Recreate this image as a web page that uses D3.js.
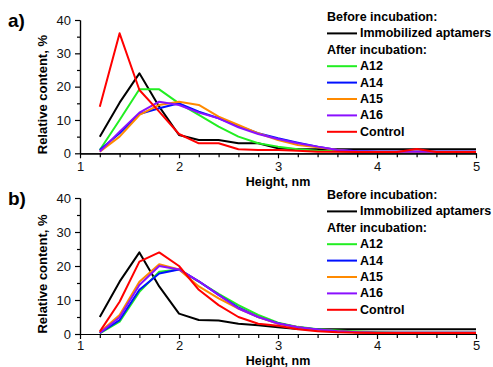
<!DOCTYPE html>
<html>
<head>
<meta charset="utf-8">
<script src="https://cdn.jsdelivr.net/npm/d3@7"></script>
<style>
body { margin: 0; background: #fff; }
text { font-family: "Liberation Sans", Arial, sans-serif; }
.axis path, .axis line { stroke: #000; stroke-width: 1.2; }
.axis text { font-size: 13px; fill: #111; }
.title { font-weight: bold; font-size: 13px; fill: #000; }
.xtitle { font-size: 12.5px; }
.legend text { font-weight: bold; font-size: 12.5px; fill: #000; }
.panelLabel { font-weight: bold; font-size: 19px; fill: #000; }
</style>
</head>
<body>
<svg id="chart" width="493" height="367"></svg>
<script>
// heights (nm), shared by all curves
var heights = [1.2, 1.4, 1.6, 1.8, 2.0, 2.2, 2.4, 2.6, 2.8, 3.0, 3.2, 3.4, 3.6, 3.8, 4.0, 4.2, 4.4, 4.6, 4.8, 5.0];

var seriesNames = ["Immobilized aptamers", "A12", "A14", "A15", "A16", "Control"];
var seriesColors = ["#000000", "#22ee22", "#0010ff", "#ff8a00", "#8a10ff", "#ff0000"];

var xTicks = [1, 2, 3, 4, 5];
var yTicks = [0, 10, 20, 30, 40];

// panel a)
var immobilizedA = [5, 15.2, 24, 14, 5.5, 4, 4, 3, 3, 1.5, 1.2, 1.2, 1.2, 1.2, 1.2, 1.2, 1.2, 1.2, 1.2, 1.2];
var a12A = [1, 10, 19.2, 19.2, 15, 11.5, 8, 5, 3, 2, 1.2, 0.8, 0.6, 0.5, 0.4, 0.4, 0.4, 0.4, 0.4, 0.4];
var a14A = [1, 6, 11.8, 13.5, 15, 12.5, 10.5, 8.2, 6, 4.5, 3.2, 2, 1, 0.6, 0.5, 0.5, 0.5, 0.5, 0.5, 0.5];
var a15A = [0.5, 5, 11.5, 14.5, 15.5, 14.5, 11, 8.5, 6, 4, 2.5, 1.8, 1, 0.5, 0.4, 0.4, 0.4, 0.4, 0.4, 0.4];
var a16A = [0.5, 6.5, 12.2, 15.5, 14.5, 12.2, 10.5, 7.8, 5.8, 4.3, 3, 2, 1, 0.6, 0.5, 0.5, 0.5, 0.5, 0.5, 0.5];
var controlA = [14, 36, 19, 12.5, 5.8, 3, 3, 1.2, 1, 1, 0.8, 0.5, 0.5, 0.4, 0.4, 0.4, 1.3, 0.4, 0.4, 0.4];

// panel b)
var immobilizedB = [5, 15.4, 24, 14, 6, 4.1, 4, 3, 2.6, 2, 1.5, 1.4, 1.4, 1.4, 1.4, 1.4, 1.4, 1.4, 1.4, 1.4];
var a12B = [0.2, 3.6, 12.4, 18.3, 19, 15.4, 11.8, 8.5, 5.6, 3.3, 2.1, 1.4, 1, 0.7, 0.5, 0.4, 0.4, 0.4, 0.4, 0.4];
var a14B = [0.3, 4.1, 13, 17.8, 19, 15.5, 11.5, 7.8, 5, 3.2, 2, 1.3, 0.8, 0.5, 0.4, 0.4, 0.4, 0.4, 0.4, 0.4];
var a15B = [0.5, 5.6, 15.4, 20.5, 19, 14, 10.5, 7.5, 5, 3, 2, 1.2, 0.8, 0.5, 0.4, 0.4, 0.4, 0.4, 0.4, 0.4];
var a16B = [0.3, 4.9, 14.4, 20, 19, 15.5, 11.5, 7.5, 5, 3.1, 2, 1.3, 0.8, 0.5, 0.4, 0.4, 0.4, 0.4, 0.4, 0.4];
var controlB = [0.7, 9.5, 21.3, 24, 20, 13, 8.5, 5, 3, 2.4, 1.4, 0.8, 0.5, 0.4, 0.3, 0.3, 0.3, 0.3, 0.3, 0.3];

var svg = d3.select("#chart");

function drawPanel(top, bottom, label, series, titleGap, xPad) {
    var x = d3.scaleLinear().domain([1, 5]).range([80, 476]);
    var y = d3.scaleLinear().domain([0, 40]).range([bottom, top]);

    var g = svg.append("g");

    // minor ticks
    g.append("g")
        .attr("class", "axis")
        .attr("transform", `translate(0, ${bottom})`)
        .call(d3.axisBottom(x).tickValues(d3.range(1.2, 5, 0.2).filter(d => Math.abs(d - Math.round(d)) > 0.01))
            .tickSize(4).tickSizeOuter(0).tickFormat(""));
    g.append("g")
        .attr("class", "axis")
        .attr("transform", "translate(80, 0)")
        .call(d3.axisLeft(y).tickValues([5, 15, 25, 35]).tickSize(3).tickSizeOuter(0).tickFormat(""));

    // major ticks
    g.append("g")
        .attr("class", "axis")
        .attr("transform", `translate(0, ${bottom})`)
        .call(d3.axisBottom(x).tickValues(xTicks).tickSize(5).tickPadding(xPad).tickSizeOuter(0).tickFormat(d3.format("d")));
    g.append("g")
        .attr("class", "axis")
        .attr("transform", "translate(80, 0)")
        .call(d3.axisLeft(y).tickValues(yTicks).tickSize(5).tickPadding(4).tickSizeOuter(0));

    var line = d3.line()
        .x((d, i) => x(heights[i]))
        .y(d => y(d));

    g.selectAll("path.curve")
        .data(series)
        .enter()
        .append("path")
        .attr("class", "curve")
        .attr("d", d => line(d))
        .attr("fill", "none")
        .attr("stroke", (d, i) => seriesColors[i])
        .attr("stroke-width", 2)
        .attr("stroke-linejoin", "round");

    // axis titles
    g.append("text")
        .attr("class", "title")
        .attr("transform", `translate(42, ${(top + bottom) / 2 + 8}) rotate(-90)`)
        .attr("text-anchor", "middle")
        .attr("dominant-baseline", "central")
        .text("Relative content, %");
    g.append("text")
        .attr("class", "title xtitle")
        .attr("x", (x(1) + x(5)) / 2)
        .attr("y", bottom + titleGap)
        .attr("text-anchor", "middle")
        .text("Height, nm");

    g.append("text")
        .attr("class", "panelLabel")
        .attr("x", 8)
        .attr("y", top + 7)
        .text(label);

    // legend
    var step = 16.4;
    var ly = top - 3;
    var leg = g.append("g").attr("class", "legend");
    leg.append("text").attr("x", 327).attr("y", ly).attr("dominant-baseline", "central").text("Before incubation:");
    leg.append("text").attr("x", 327).attr("y", ly + 2 * step).attr("dominant-baseline", "central").text("After incubation:");

    var rows = seriesNames.map((n, i) => ({ name: n, color: seriesColors[i], row: i == 0 ? 1 : i + 2 }));
    leg.selectAll("line.key")
        .data(rows)
        .enter()
        .append("line")
        .attr("class", "key")
        .attr("x1", 327).attr("x2", 357)
        .attr("y1", d => ly + d.row * step).attr("y2", d => ly + d.row * step)
        .attr("stroke", d => d.color)
        .attr("stroke-width", 2);
    leg.selectAll("text.keyLabel")
        .data(rows)
        .enter()
        .append("text")
        .attr("class", "keyLabel")
        .attr("x", 360)
        .attr("y", d => ly + d.row * step)
        .attr("dominant-baseline", "central")
        .text(d => d.name);
}

drawPanel(20, 153.3, "a)", [immobilizedA, a12A, a14A, a15A, a16A, controlA], 33, 3);
drawPanel(198, 334, "b)", [immobilizedB, a12B, a14B, a15B, a16B, controlB], 30.5, 2);
</script>
</body>
</html>
